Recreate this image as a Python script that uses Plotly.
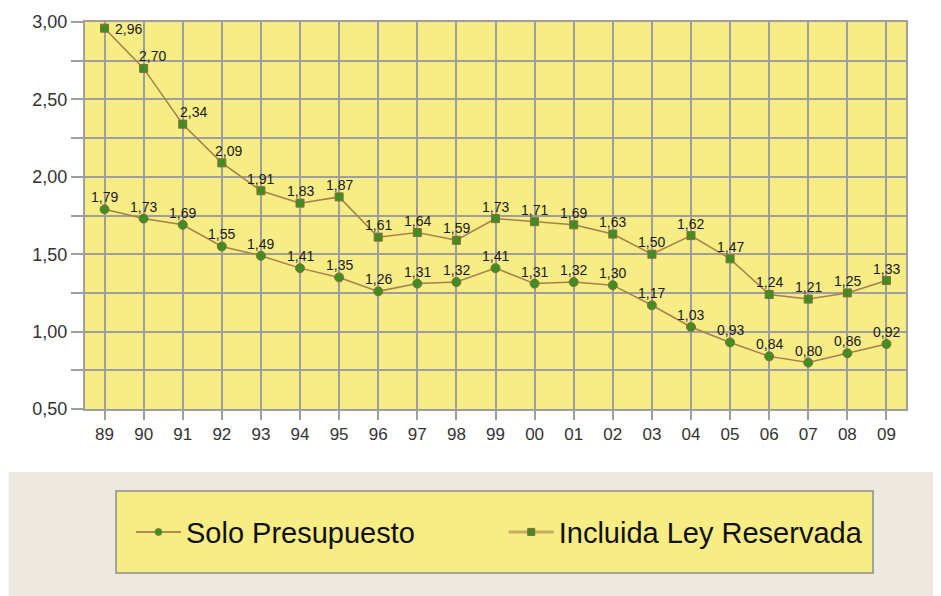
import plotly.graph_objects as go

years = ["89", "90", "91", "92", "93", "94", "95", "96", "97", "98", "99",
         "00", "01", "02", "03", "04", "05", "06", "07", "08", "09"]
solo = [1.79, 1.73, 1.69, 1.55, 1.49, 1.41, 1.35, 1.26, 1.31, 1.32, 1.41,
        1.31, 1.32, 1.30, 1.17, 1.03, 0.93, 0.84, 0.80, 0.86, 0.92]
incluida = [2.96, 2.70, 2.34, 2.09, 1.91, 1.83, 1.87, 1.61, 1.64, 1.59, 1.73,
            1.71, 1.69, 1.63, 1.50, 1.62, 1.47, 1.24, 1.21, 1.25, 1.33]
ytick_vals = [0.5, 0.75, 1.0, 1.25, 1.5, 1.75, 2.0, 2.25, 2.5, 2.75, 3.0]
ytick_text = ["0,50", "", "1,00", "", "1,50", "", "2,00", "", "2,50", "", "3,00"]
names = ["Solo Presupuesto", "Incluida Ley Reservada"]

LINE = "#A3804C"
GREEN = "#3F8E22"
EDGE = "#8A6A3A"
YELLOW = "#F8EC84"
GRID = "#9E9E9E"
FONT = "Liberation Sans, Arial, sans-serif"

fig = go.Figure()
fig.add_trace(go.Scatter(
    x=years, y=solo, name=names[0], mode="lines+markers",
    line=dict(color=LINE, width=1.5),
    marker=dict(symbol="circle", size=9, color=GREEN, line=dict(color=EDGE, width=1)),
    cliponaxis=False, showlegend=False,
))
fig.add_trace(go.Scatter(
    x=years, y=incluida, name=names[1], mode="lines+markers",
    line=dict(color=LINE, width=1.5),
    marker=dict(symbol="square", size=8, color=GREEN, line=dict(color=EDGE, width=1)),
    cliponaxis=False, showlegend=False,
))
# legend entries (styled like the reference legend samples)
fig.add_trace(go.Scatter(
    x=[None], y=[None], name=names[0], mode="lines+markers",
    line=dict(color="#9A6A3E", width=1.5),
    marker=dict(symbol="circle", size=7, color=GREEN, line=dict(color="#7A8A30", width=1)),
    legend="legend", showlegend=True, hoverinfo="skip",
))
fig.add_trace(go.Scatter(
    x=[None], y=[None], name=names[1], mode="lines+markers",
    line=dict(color="#C9AA62", width=3),
    marker=dict(symbol="square", size=7, color=GREEN, line=dict(color=EDGE, width=1)),
    legend="legend2", showlegend=True, hoverinfo="skip",
))

def fmt(v):
    return f"{v:.2f}".replace(".", ",")

LBL = dict(size=14, color="#1a1a1a", family=FONT)
# label shifts (style only)
upper_dx = {1: 9, 2: 11, 3: 7}
annotations = []
for i, v in enumerate(solo):
    annotations.append(dict(x=i, y=v, xref="x", yref="y", text=fmt(v), showarrow=False,
                            xanchor="center", yanchor="bottom", yshift=2, font=LBL))
for i, v in enumerate(incluida):
    if i == 0:
        annotations.append(dict(x=i, y=v, xref="x", yref="y", text=fmt(v), showarrow=False,
                                xanchor="left", yanchor="middle", xshift=8, yshift=-1,
                                font=LBL))
    else:
        annotations.append(dict(x=i, y=v, xref="x", yref="y", text=fmt(v), showarrow=False,
                                xanchor="center", yanchor="bottom", yshift=2,
                                xshift=upper_dx.get(i, 0), font=LBL))

shapes = [
    dict(type="rect", xref="paper", yref="paper", x0=-0.093, x1=1.06, y0=-0.163, y1=-0.5,
         fillcolor="#EDE9E1", line=dict(width=0), layer="below"),
    dict(type="rect", xref="paper", yref="paper", x0=0.0378, x1=0.9598, y0=-0.2119, y1=-0.4238,
         fillcolor=YELLOW, line=dict(color="#8C8C8C", width=1.5), layer="below"),
]

fig.update_layout(
    width=933, height=588,
    margin=dict(l=77, r=35, t=14, b=187, autoexpand=False),
    paper_bgcolor="white", plot_bgcolor=YELLOW,
    font=dict(family=FONT, color="#333"),
    annotations=annotations, shapes=shapes,
    showlegend=True,
    legend=dict(x=0.056, y=-0.318, xanchor="left", yanchor="middle",
                bgcolor="rgba(0,0,0,0)", font=dict(size=29, color="#111", family=FONT),
                itemwidth=45),
    legend2=dict(x=0.510, y=-0.318, xanchor="left", yanchor="middle",
                 bgcolor="rgba(0,0,0,0)", font=dict(size=29, color="#111", family=FONT),
                 itemwidth=45),
)
fig.update_xaxes(
    type="category", range=[-0.5, 20.5], automargin=False,
    showgrid=True, gridcolor=GRID, gridwidth=1.5,
    showline=True, linecolor=GRID, linewidth=2, mirror=True,
    ticks="outside", ticklen=9, tickcolor=GRID, tickwidth=1.5,
    tickfont=dict(size=17, color="#333", family=FONT),
)
fig.update_yaxes(
    range=[0.5, 3.0], tickvals=ytick_vals, ticktext=ytick_text, automargin=False,
    showgrid=True, gridcolor=GRID, gridwidth=1.5,
    showline=True, linecolor=GRID, linewidth=2, mirror=True,
    ticks="outside", ticklen=12, tickcolor=GRID, tickwidth=1.5,
    tickfont=dict(size=18, color="#333", family=FONT), zeroline=False,
)

fig.write_html("out.html")
